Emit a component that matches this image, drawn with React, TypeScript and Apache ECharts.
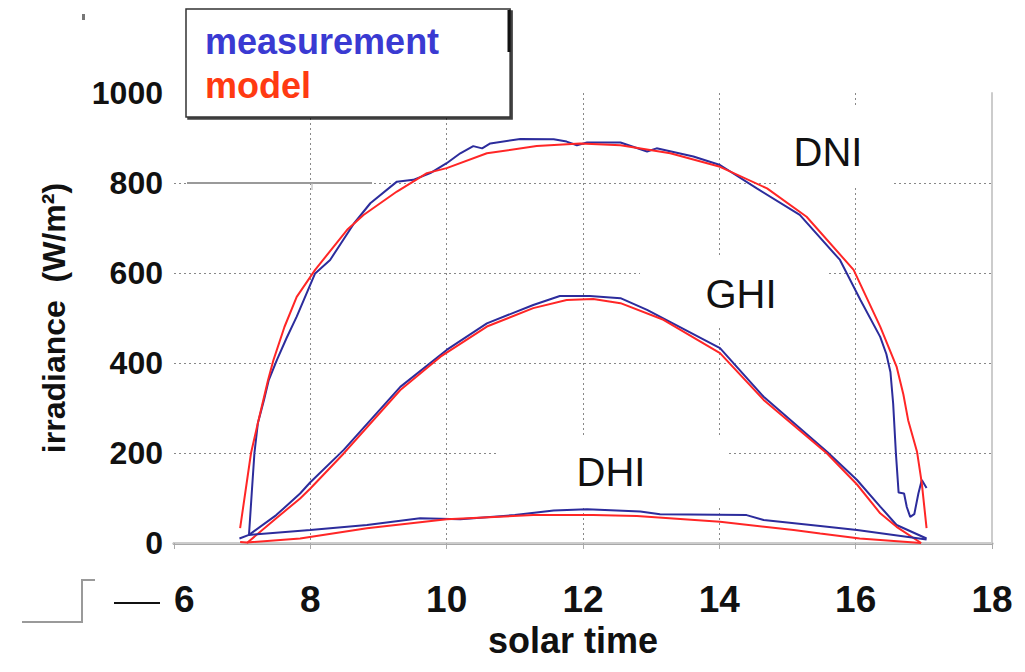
import React, { useEffect, useRef } from "react";
import * as echarts from "echarts";

// solar time ticks
const xTicks = [6, 8, 10, 12, 14, 16, 18];
const yTicks = [0, 200, 400, 600, 800, 1000];

// [solar time, irradiance W/m²]
const dniMeasurement: [number, number][] = [
  [7.1, 18], [7.14, 110], [7.18, 200], [7.23, 266], [7.32, 318], [7.39, 362], [7.51, 407],
  [7.65, 455], [7.8, 503], [8.07, 599], [8.29, 629], [8.64, 710], [8.88, 755], [9.27, 803],
  [9.51, 807], [9.76, 822], [10.0, 844], [10.2, 866], [10.39, 882], [10.52, 877], [10.64, 888],
  [11.08, 898], [11.57, 897], [11.76, 892], [11.91, 884], [12.06, 890], [12.55, 890],
  [12.94, 870], [13.08, 877], [13.62, 859], [14.01, 840], [14.55, 788], [15.18, 729],
  [15.77, 629], [16.07, 540], [16.36, 458], [16.45, 420], [16.51, 380], [16.55, 310],
  [16.59, 200], [16.63, 112], [16.71, 110], [16.75, 80], [16.8, 58], [16.86, 64], [16.92, 110],
  [16.97, 140], [17.04, 122],
];
const dniModel: [number, number][] = [
  [6.97, 33], [7.13, 200], [7.24, 273], [7.38, 362], [7.46, 407], [7.62, 480], [7.8, 547],
  [8.07, 607], [8.54, 696], [8.78, 729], [9.27, 781], [9.71, 822], [10.0, 833], [10.59, 866],
  [11.32, 882], [11.96, 888], [12.55, 884], [13.28, 866], [14.01, 836], [14.7, 788],
  [15.28, 725], [15.97, 607], [16.36, 481], [16.6, 392], [16.7, 330], [16.77, 273],
  [16.9, 203], [16.97, 133], [17.04, 33],
];
const ghiMeasurement: [number, number][] = [
  [7.1, 18], [7.5, 62], [7.85, 110], [8.0, 135], [8.49, 207], [9.32, 347], [10.0, 429],
  [10.59, 488], [11.27, 529], [11.66, 549], [12.1, 549], [12.55, 544], [12.94, 518],
  [14.01, 433], [14.65, 325], [15.58, 203], [16.02, 140], [16.36, 81], [16.6, 40], [17.04, 10],
];
const ghiModel: [number, number][] = [
  [7.07, 0], [7.5, 55], [7.85, 99], [8.0, 121], [8.49, 199], [9.32, 340], [9.91, 414],
  [10.59, 481], [11.27, 522], [11.76, 540], [12.15, 542], [12.55, 533], [13.18, 496],
  [14.01, 422], [14.65, 318], [15.58, 199], [16.02, 130], [16.36, 66], [16.6, 36], [16.96, 0],
];
const dhiMeasurement: [number, number][] = [
  [6.96, 10], [7.1, 18], [8.0, 29], [8.83, 40], [9.61, 55], [10.2, 53], [11.0, 62],
  [11.57, 72], [12.06, 75], [12.84, 70], [13.13, 64], [14.4, 62], [14.65, 51], [15.48, 38],
  [16.02, 29], [17.04, 8],
];
const dhiModel: [number, number][] = [
  [6.97, 2], [7.07, 1], [7.85, 10], [8.83, 33], [10.0, 53], [11.27, 62], [12.15, 62],
  [12.79, 60], [14.01, 47], [15.09, 29], [15.48, 21], [16.06, 10], [16.96, 0],
];

const BLUE = "#2c2c9c";
const RED = "#ff2626";
const SANS = "'Liberation Sans', Arial, sans-serif";

export default function App() {
  const ref = useRef<HTMLDivElement>(null);
  useEffect(() => {
    document.body.style.margin = "0";
    const chart = echarts.init(ref.current!, null, { renderer: "svg" });
    const line = (name: string, data: [number, number][], color: string) => ({
      type: "line",
      name,
      data,
      showSymbol: false,
      symbol: "none",
      lineStyle: { color, width: 2 },
      itemStyle: { color },
      z: 3,
    });
    chart.setOption({
      animation: false,
      backgroundColor: "#ffffff",
      grid: { left: 174, right: 33, top: 93, bottom: 129 },
      legend: {
        orient: "vertical",
        left: 186,
        top: 9,
        padding: [12, 71, 12, 14],
        itemGap: 4,
        itemWidth: 0,
        itemHeight: 0,
        icon: "rect",
        selectedMode: false,
        backgroundColor: "#ffffff",
        borderColor: "#333333",
        borderWidth: 1.5,
        borderRadius: 0,
        shadowColor: "rgba(0,0,0,0.75)",
        shadowOffsetX: 2,
        shadowOffsetY: 2,
        shadowBlur: 1,
        textStyle: { fontSize: 36, fontWeight: "bold", fontFamily: SANS, lineHeight: 40 },
        data: [
          { name: "measurement", textStyle: { color: "#3a3ad2" } },
          { name: "model", textStyle: { color: "#ff3a12" } },
        ],
      },
      xAxis: [
        {
          type: "value",
          min: xTicks[0],
          max: xTicks[xTicks.length - 1],
          interval: 2,
          name: "solar time",
          nameLocation: "middle",
          nameGap: 72,
          nameTextStyle: { fontSize: 36, fontWeight: "bold", fontFamily: SANS, color: "#111", padding: [0, 20, 0, 0] },
          axisLine: { show: true, onZero: false, lineStyle: { color: "#a8a8a8", width: 3 } },
          axisTick: { show: true, length: 6, lineStyle: { color: "#aaaaaa", width: 1 } },
          axisLabel: {
            fontSize: 37,
            fontWeight: "bold",
            fontFamily: SANS,
            color: "#111",
            margin: 38,
            alignMinLabel: "left",
          },
          splitLine: {
            show: true,
            showMinLine: false,
            showMaxLine: false,
            lineStyle: { color: "#888888", width: 1, type: [2, 3] },
          },
        },
        {
          type: "value",
          position: "top",
          min: xTicks[0],
          max: xTicks[xTicks.length - 1],
          axisLine: { show: true, lineStyle: { color: "#cccccc", width: 2 } },
          axisTick: { show: false },
          axisLabel: { show: false },
          splitLine: { show: false },
        },
      ],
      yAxis: [
        {
          type: "value",
          min: yTicks[0],
          max: yTicks[yTicks.length - 1],
          interval: 200,
          name: "irradiance  (W/m²)",
          nameLocation: "middle",
          nameGap: 104,
          nameTextStyle: { fontSize: 32, fontWeight: "bold", fontFamily: SANS, color: "#111" },
          axisLine: { show: false },
          axisTick: { show: false },
          axisLabel: {
            fontSize: 32,
            fontWeight: "bold",
            fontFamily: SANS,
            color: "#111",
            margin: 11,
            formatter: (v: number) => String(v),
          },
          splitLine: {
            show: true,
            showMinLine: false,
            showMaxLine: false,
            lineStyle: { color: "#888888", width: 1, type: [2, 3] },
          },
        },
        {
          type: "value",
          position: "right",
          min: yTicks[0],
          max: yTicks[yTicks.length - 1],
          axisLine: { show: true, lineStyle: { color: "#cccccc", width: 2 } },
          axisTick: { show: false },
          axisLabel: { show: false },
          splitLine: { show: false },
        },
      ],
      series: [
        line("measurement", dniMeasurement, BLUE),
        line("model", dniModel, RED),
        line("measurement", ghiMeasurement, BLUE),
        line("model", ghiModel, RED),
        line("measurement", dhiMeasurement, BLUE),
        line("model", dhiModel, RED),
      ],
      graphic: [
        // white boxes behind the curve labels (hide grid lines)
        { type: "rect", z: 1, shape: { x: 777, y: 107, width: 116, height: 78 }, style: { fill: "#ffffff" } },
        { type: "rect", z: 1, shape: { x: 640, y: 257, width: 188, height: 68 }, style: { fill: "#ffffff" } },
        { type: "rect", z: 1, shape: { x: 497, y: 437, width: 230, height: 68 }, style: { fill: "#ffffff" } },
        { type: "text", z: 10, x: 828, y: 152, style: { text: "DNI", fontSize: 40, fontFamily: SANS, fill: "#111", align: "center", verticalAlign: "middle" } },
        { type: "text", z: 10, x: 741, y: 294, style: { text: "GHI", fontSize: 40, fontFamily: SANS, fill: "#111", align: "center", verticalAlign: "middle" } },
        { type: "text", z: 10, x: 611, y: 472, style: { text: "DHI", fontSize: 40, fontFamily: SANS, fill: "#111", align: "center", verticalAlign: "middle" } },
        // scan artefacts
        { type: "line", z: 1, shape: { x1: 187, y1: 183, x2: 372, y2: 183 }, style: { stroke: "#9a9a9a", lineWidth: 2 } },
        { type: "line", z: 1, shape: { x1: 312, y1: 183, x2: 312, y2: 190 }, style: { stroke: "#b0b0b0", lineWidth: 1 } },
        { type: "polyline", z: 1, shape: { points: [[22, 622], [82, 622], [82, 580], [95, 580]] }, style: { stroke: "#9a9a9a", lineWidth: 2, fill: null } },
        { type: "line", z: 1, shape: { x1: 114, y1: 603, x2: 160, y2: 603 }, style: { stroke: "#111", lineWidth: 2 } },
        { type: "rect", z: 1, shape: { x: 82, y: 14, width: 3, height: 6 }, style: { fill: "#777" } },
        { type: "line", z: 100, shape: { x1: 509, y1: 10, x2: 509, y2: 52 }, style: { stroke: "#111", lineWidth: 3 } },
      ],
    });
    return () => chart.dispose();
  }, []);
  return <div ref={ref} style={{ position: "fixed", left: 0, top: 0, width: 1025, height: 672 }} />;
}
